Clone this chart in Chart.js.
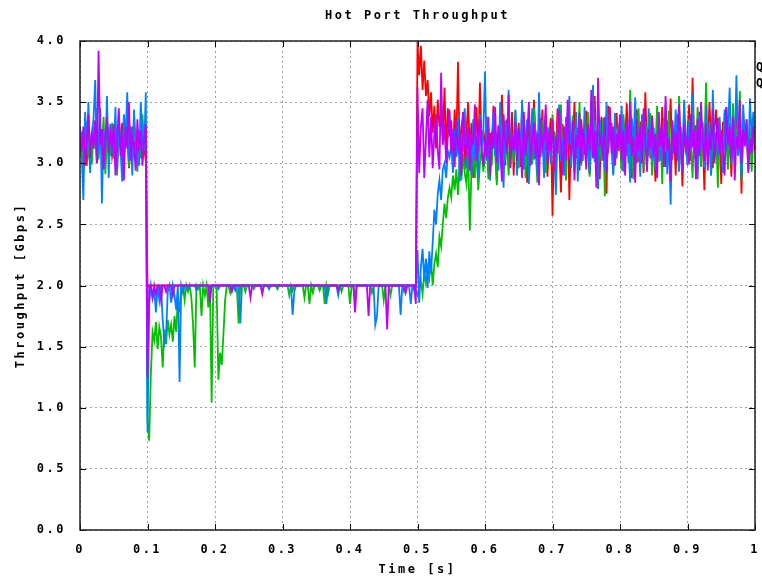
<!DOCTYPE html>
<html>
<head>
<meta charset="utf-8">
<title>Hot Port Throughput</title>
<script src="https://cdn.jsdelivr.net/npm/chart.js@4/dist/chart.umd.min.js"></script>
<style>
  html, body { margin: 0; padding: 0; background: #fff; }
  #wrap { width: 762px; height: 579px; }
</style>
</head>
<body>
<div id="wrap"><canvas id="hot-port-throughput"></canvas></div>
<script>
// sampling grid: one value every 2.5 ms from 0 to 1 s
const times = Array.from({ length: 401 }, (_, i) => +(i * 0.0025).toFixed(4));

const legendNames = ["Q0", "Q1"];

// throughput per queue [Gbps]
const q0 = [
  3.18,3.05,3.27,3.12,2.98,3.31,3.16,3.08,3.22,3.35,3.01,3.14,3.26,3.09,3.19,3.03,3.28,3.11,3.24,3.06,
  3.17,3.29,3.02,3.21,3.13,3.33,3.07,3.18,3.25,2.96,3.15,3.3,3.1,3.2,3.04,3.27,3.12,3.23,3.08,3.19,
  2,2,2,2,2,2,2,2,2,2,2,2,2,2,2,2,2,2,2,2,
  2,2,2,2,2,2,2,2,2,2,2,2,2,2,2,2,2,2,2,2,
  2,2,2,2,2,2,2,2,2,2,2,2,2,2,2,2,2,2,2,2,
  2,2,2,2,2,2,2,2,2,2,2,2,2,2,2,2,2,2,2,2,
  2,2,2,2,2,2,2,2,2,2,2,2,2,2,2,2,2,2,2,2,
  2,2,2,2,2,2,2,2,2,2,2,2,2,2,2,2,2,2,2,2,
  2,2,2,2,2,2,2,2,2,2,2,2,2,2,2,2,2,2,2,2,
  2,2,2,2,2,2,2,2,2,2,2,2,2,2,2,2,2,2,2,2,
  4.0,3.72,3.96,3.6,3.84,3.55,3.68,3.38,3.58,3.25,3.47,3.12,3.52,3.3,3.41,3.18,3.62,3.09,3.45,3.22,
  3.35,3.02,3.44,3.15,3.83,3.08,3.29,3.41,2.95,3.24,3.5,3.11,3.33,2.88,3.2,3.46,3.05,3.66,3.14,3.27,
  3.12,3.38,2.92,3.25,3.05,3.47,3.18,2.86,3.31,3.09,3.56,3.14,2.98,3.36,3.21,3.03,3.42,2.9,3.27,3.16,
  3.33,2.97,3.48,3.1,3.24,2.84,3.39,3.17,3.06,3.52,3.2,2.93,3.35,3.11,3.44,3.02,3.28,2.89,3.22,3.37,
  2.57,3.26,3.08,3.45,3.15,2.76,3.32,3.19,3.01,3.4,2.7,3.23,3.13,3.5,3.04,3.29,2.94,3.36,3.17,3.07,
  3.43,3.12,2.91,3.3,3.2,3.55,3.05,3.26,2.87,3.38,3.14,3.02,2.75,3.47,3.18,3.33,2.99,3.24,3.41,3.1,
  3.21,2.95,3.37,3.16,3.49,3.06,3.3,2.88,3.25,3.13,3.44,3.01,3.34,3.19,2.92,3.58,3.11,3.27,3.04,3.39,
  3.15,2.85,3.32,3.22,3.06,3.46,3.12,2.97,3.35,3.18,3.53,3.03,3.28,2.9,3.4,3.14,3.23,2.81,3.37,3.09,
  3.26,3.48,3.02,3.7,3.17,3.31,2.93,3.42,3.11,3.2,2.78,3.36,3.08,3.5,3.15,2.96,3.29,3.44,3.05,3.22,
  2.83,3.34,3.13,3.46,3.01,3.24,2.89,3.38,3.16,3.52,3.07,3.27,2.75,3.41,3.19,3.32,2.94,3.23,3.12,3.35,
  3.1
];

const q1 = [
  3.1,3.26,2.95,3.2,3.34,3.07,3.15,2.99,3.3,3.12,3.45,3.03,3.22,3.14,3.38,2.91,3.19,3.27,3.06,3.33,
  3.11,3.24,2.9,3.36,3.16,3.05,3.29,3.13,3.48,2.97,3.21,3.09,3.32,3.18,2.93,3.26,3.04,3.4,3.15,3.22,
  0.9,0.73,1.28,1.62,1.55,1.7,1.48,1.66,1.58,1.33,1.64,1.52,1.72,1.6,1.68,1.54,1.75,1.62,1.9,1.78,
  2,2,1.88,2,1.95,2,1.9,1.68,1.33,2,1.97,2,1.75,2,1.92,2,1.82,2,1.04,2,
  2,1.96,1.23,1.45,1.35,1.6,1.88,2,2,1.94,2,2,2,1.97,1.69,2,2,2,1.95,2,
  2,2,2,1.97,2,2,2,2,1.95,2,2,2,2,2,2,2,2,1.97,2,2,
  2,2,2,2,1.92,2,1.96,2,2,2,2,2,2,1.9,2,2,1.85,2,1.94,2,
  2,2,1.96,2,2,1.85,2,1.93,2,2,2,2,2,2,2,1.95,2,2,2,2,
  1.85,2,2,1.9,2,2,2,2,2,2,2,2,2,1.94,2,2,2,2,2,2,
  1.88,2,2,2,1.92,2,2,2,2,2,2,2,1.95,2,2,2,2,2,1.96,1.95,
  1.92,1.98,2.04,1.93,2.1,2.02,2.14,2.06,2.2,2.0,2.18,2.26,2.15,2.4,2.32,2.5,2.67,2.55,2.72,2.8,
  2.72,2.9,2.78,2.95,2.74,3.02,2.86,3.08,2.92,2.83,3.1,2.45,2.96,3.05,2.88,3.15,2.78,3.0,3.12,2.93,
  3.05,3.22,2.87,3.14,2.98,3.3,3.09,2.82,3.25,3.18,2.94,3.36,3.02,3.2,2.9,3.28,3.11,3.01,3.43,3.16,
  2.96,3.24,3.12,3.38,2.88,3.19,3.07,3.31,2.99,3.45,3.14,2.84,3.27,3.05,3.35,3.1,2.92,3.29,3.17,3.03,
  3.4,3.13,2.95,3.26,3.08,3.48,3.0,3.21,2.86,3.33,3.16,3.04,3.39,2.93,3.23,3.12,3.5,2.98,3.18,3.3,
  3.06,3.42,2.89,3.2,3.11,3.35,2.97,3.26,3.14,3.02,3.37,2.73,3.23,3.09,3.44,3.15,2.91,3.32,3.07,3.28,
  3.18,2.94,3.4,3.1,3.26,3.0,3.6,3.15,2.87,3.3,3.12,3.45,3.03,3.22,2.95,3.34,3.16,3.06,3.41,2.9,
  3.24,3.12,3.47,3.01,3.29,2.83,3.37,3.18,3.08,3.43,2.96,3.25,3.14,3.32,3.04,3.55,3.11,2.92,3.28,3.19,
  3.02,3.36,3.15,2.88,3.3,3.09,3.46,3.2,2.97,3.34,3.12,3.66,3.05,3.25,2.9,3.38,3.14,3.22,2.8,3.31,
  3.16,3.04,3.41,3.2,2.95,3.33,3.1,3.49,3.0,3.27,3.13,3.59,2.86,3.24,3.17,3.36,3.06,3.28,2.93,3.21,
  3.15
];

const q2 = [
  3.3,3.08,2.7,3.42,3.15,3.5,2.92,3.25,3.36,3.68,3.0,3.18,3.45,2.67,3.28,3.1,3.55,2.88,3.32,3.2,
  3.04,3.46,2.95,3.38,3.12,2.85,3.4,3.2,3.58,3.02,3.3,2.9,3.44,3.15,3.27,2.98,3.5,3.22,3.1,3.58,
  0.8,1.85,2,1.9,1.96,1.78,2,1.88,2,1.72,1.53,1.6,1.95,2,1.86,2,1.92,1.8,2,1.21,
  2,1.94,2,2,1.97,2,2,2,2,1.96,2,2,2,2,2,2,2,1.98,2,2,
  2,2,1.97,2,2,2,2,2,2,2,2,2,1.96,2,2,1.69,2,2,2,2,
  2,2,2,2,2,2,2,2,2,2,2,2,1.97,2,2,2,2,2,2,2,
  2,2,2,2,2,2,1.76,1.95,2,2,2,2,2,2,2,2,2,2,2,2,
  2,2,2,2,2,2,1.85,2,2,2,2,2,2,1.92,2,2,2,2,2,2,
  2,2,2,2,2,2,2,2,2,2,2,2,2,2,2,1.68,1.75,2,2,2,
  2,2,2,2,2,2,2,2,2,2,1.76,2,2,2,2,2,1.85,2,2,2,
  2.29,1.86,2.15,2.3,2.05,2.22,1.98,2.28,2.1,2.35,2.62,2.5,2.75,2.86,2.7,2.95,3.0,2.88,3.1,3.05,
  3.15,2.92,3.28,3.05,3.38,2.85,3.2,3.1,3.45,2.96,3.3,3.12,2.9,3.36,3.04,3.22,2.88,3.4,3.1,3.25,
  3.75,3.02,3.3,2.86,3.18,3.42,3.06,3.25,2.94,3.5,3.12,2.8,3.35,3.15,3.6,2.97,3.22,3.08,3.44,2.9,
  3.28,3.1,3.52,2.95,3.2,3.36,2.83,3.14,3.45,3.03,3.27,2.91,3.58,3.12,3.24,2.88,3.4,3.06,3.3,2.99,
  3.34,3.11,2.74,3.26,3.48,3.02,3.2,2.9,3.38,3.16,3.55,2.96,3.23,3.07,3.42,2.85,3.31,3.13,3.02,3.46,
  3.05,3.32,2.92,3.19,3.64,3.01,3.27,2.79,3.36,3.13,3.22,2.95,3.5,3.08,3.3,3.17,2.9,3.41,3.04,3.25,
  3.12,3.47,2.93,3.28,3.06,3.2,2.84,3.37,3.15,3.54,3.0,3.23,2.89,3.4,3.1,3.31,2.97,3.45,3.14,3.03,
  3.29,2.95,3.16,3.38,3.02,3.25,3.11,3.48,2.91,3.22,2.66,3.35,3.08,3.44,3.17,2.93,3.3,3.06,3.52,3.2,
  2.98,3.33,3.12,3.57,3.04,3.26,2.87,3.4,3.15,3.21,2.96,3.46,3.09,3.34,2.9,3.6,3.13,3.25,3.05,3.38,
  3.16,2.92,3.44,3.1,3.3,3.62,2.99,3.23,3.14,3.72,3.06,3.36,2.88,3.48,3.18,3.28,3.0,3.53,3.2,3.42,
  3.25
];

const q3 = [
  3.22,3.1,3.3,2.98,3.18,3.4,3.05,3.26,3.12,3.35,3.0,3.92,3.15,3.28,2.95,3.2,3.38,3.08,3.25,3.14,
  3.32,2.9,3.19,3.45,3.06,3.24,2.86,3.3,3.12,3.5,3.02,3.22,3.15,2.94,3.36,3.1,3.27,2.98,3.2,3.32,
  1.25,2,2,1.9,2,1.93,2,2,1.88,2,2,1.95,2,2,2,1.92,2,2,2,2,
  2,2,2,2,2,2,2,2,2,2,2,2,2,2,2,2,2,1.86,2,2,
  2,2,2,2,2,2,2,2,2,2,1.95,2,2,2,2,2,2,2,2,2,
  2,1.9,2,2,2,2,2,2,1.93,2,2,2,2,2,2,2,2,2,2,2,
  2,2,2,2,2,2,2,2,2,2,2,2,2,2,2,2,2,2,2,2,
  2,2,2,2,2,2,2,2,2,2,2,2,2,1.96,2,2,2,2,2,2,
  2,2,2,1.78,2,2,2,2,2,2,2,1.75,2,2,2,2,2,2,2,2,
  2,2,1.64,2,2,2,2,2,2,2,2,2,2,1.94,2,2,2,2,2,1.85,
  3.62,2.92,3.3,3.45,2.88,3.2,3.52,3.05,3.38,2.96,3.25,3.4,3.1,2.95,3.74,3.15,3.32,3.0,3.22,3.44,
  3.08,3.28,2.97,3.35,3.12,3.2,2.9,3.42,3.18,3.05,3.3,2.94,3.25,3.15,3.48,3.02,3.2,3.36,3.1,2.98,
  3.2,3.05,3.38,2.9,3.26,3.12,3.46,3.0,3.3,3.15,2.85,3.4,3.18,3.08,3.56,2.96,3.24,3.1,3.34,3.02,
  3.28,3.14,2.88,3.42,3.06,3.22,3.5,2.98,3.18,3.33,3.04,3.25,2.82,3.37,3.12,3.2,3.48,3.0,3.26,3.1,
  3.36,2.94,3.21,3.08,3.44,3.15,2.9,3.3,3.02,3.52,3.17,3.06,3.35,2.86,3.23,3.12,3.41,3.0,3.28,3.16,
  2.95,3.32,3.1,3.6,3.04,3.26,2.8,3.7,3.14,3.22,3.02,3.38,2.92,3.18,3.46,3.08,3.3,2.98,3.24,3.12,
  3.4,3.02,3.27,2.9,3.34,3.16,3.5,3.06,3.22,2.84,3.36,3.1,3.3,3.0,3.45,3.18,2.93,3.28,3.12,3.38,
  3.05,3.24,2.88,3.42,3.14,3.3,2.97,3.55,3.1,3.2,2.85,3.35,3.08,3.26,3.02,3.48,3.16,2.92,3.32,3.12,
  3.22,2.99,3.4,3.13,3.28,2.87,3.36,3.06,3.5,3.18,3.02,3.32,2.94,3.25,3.11,3.44,3.0,3.2,3.37,3.08,
  3.27,3.1,2.9,3.46,3.15,3.3,3.04,3.38,2.86,3.22,3.12,3.52,3.0,3.28,3.14,3.36,2.92,3.2,3.08,3.3,
  3.18
];

const FONT = '"DejaVu Sans Mono", "Liberation Mono", monospace';
const SPACING = "2.5px";

// gnuplot-style frame: border, inward ticks on all four sides, title, cut-off key
const framePlugin = {
  id: "frame",
  beforeUpdate(chart) {
    chart.ctx.letterSpacing = SPACING;
  },
  beforeDraw(chart) {
    chart.ctx.letterSpacing = SPACING;
  },
  afterDraw(chart) {
    const { ctx, chartArea: a, scales } = chart;
    ctx.save();
    ctx.letterSpacing = SPACING;

    ctx.strokeStyle = "#000";
    ctx.lineWidth = 1;
    ctx.beginPath();
    scales.x.ticks.forEach((t) => {
      const x = Math.round(scales.x.getPixelForValue(t.value)) + 0.5;
      ctx.moveTo(x, a.bottom);
      ctx.lineTo(x, a.bottom - 6);
      ctx.moveTo(x, a.top);
      ctx.lineTo(x, a.top + 6);
    });
    scales.y.ticks.forEach((t) => {
      const y = Math.round(scales.y.getPixelForValue(t.value)) + 0.5;
      ctx.moveTo(a.left, y);
      ctx.lineTo(a.left + 6, y);
      ctx.moveTo(a.right, y);
      ctx.lineTo(a.right - 6, y);
    });
    ctx.stroke();

    ctx.strokeStyle = "#202020";
    ctx.lineWidth = 1.5;
    ctx.strokeRect(a.left, a.top, a.right - a.left, a.bottom - a.top);

    ctx.fillStyle = "#000";
    ctx.font = "bold 12px " + FONT;
    ctx.textAlign = "center";
    ctx.textBaseline = "middle";
    ctx.fillText("Hot Port Throughput", (a.left + a.right) / 2, 16);

    ctx.textAlign = "left";
    legendNames.forEach((name, i) => {
      ctx.fillText(name, a.right + 1, 68 + i * 16);
    });
    ctx.restore();
  },
};

const tickFont = { family: FONT, size: 12, weight: "bold" };

new Chart(document.getElementById("hot-port-throughput"), {
  type: "line",
  data: {
    labels: times,
    datasets: [
      { label: "Q0", data: q0, borderColor: "#ff0000", order: 4 },
      { label: "Q1", data: q1, borderColor: "#00c000", order: 3 },
      { label: "Q2", data: q2, borderColor: "#0080ff", order: 2 },
      { label: "Q3", data: q3, borderColor: "#c000ff", order: 1 },
    ],
  },
  options: {
    responsive: true,
    maintainAspectRatio: false,
    animation: false,
    layout: { padding: { top: 41, right: 7, bottom: 0, left: 0 } },
    elements: {
      point: { radius: 0 },
      line: { borderWidth: 1.8, tension: 0, fill: false },
    },
    plugins: {
      legend: { display: false },
      title: { display: false },
      tooltip: { enabled: false },
    },
    scales: {
      x: {
        type: "linear",
        min: 0,
        max: 1,
        ticks: {
          stepSize: 0.1,
          color: "#000",
          font: tickFont,
          padding: 13,
          maxRotation: 0,
          callback: (v) => String(+v.toFixed(1)),
        },
        grid: { color: "#a0a0a0", drawTicks: false },
        border: { display: false, dash: [2, 3] },
        title: {
          display: true,
          text: "Time [s]",
          color: "#000",
          font: tickFont,
          padding: { top: 0, bottom: 2 },
        },
        afterFit(scale) {
          scale.height = 49;
          scale.paddingLeft = 0;
          scale.paddingRight = 0;
        },
      },
      y: {
        min: 0,
        max: 4,
        ticks: {
          stepSize: 0.5,
          color: "#000",
          font: tickFont,
          padding: 14,
          callback: (v) => v.toFixed(1),
        },
        grid: { color: "#a0a0a0", drawTicks: false },
        border: { display: false, dash: [2, 3] },
        title: {
          display: true,
          text: "Throughput [Gbps]",
          color: "#000",
          font: tickFont,
          padding: { top: 14, bottom: 0 },
        },
        afterFit(scale) {
          scale.width = 80;
        },
      },
    },
  },
  plugins: [framePlugin],
});
</script>
</body>
</html>
